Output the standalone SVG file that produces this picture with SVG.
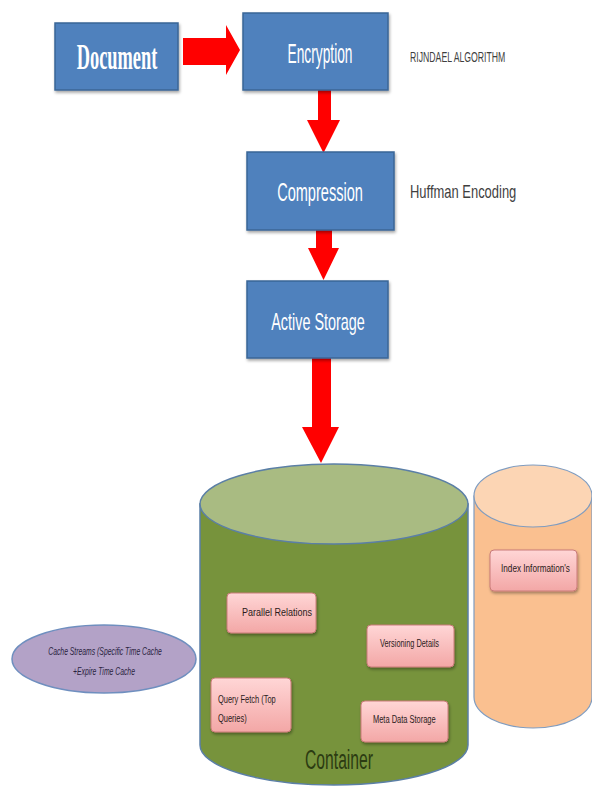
<svg xmlns="http://www.w3.org/2000/svg" width="592" height="786" viewBox="0 0 592 786">
<defs>
<style>
.blue{fill:#4f81bd;stroke:#3a6696;stroke-width:1.5}
.wt{fill:#ffffff;font-family:"Liberation Sans",Arial,sans-serif;text-anchor:middle}
.pink{fill:url(#pg);stroke:#c97a78;stroke-width:1}
.st{fill:#2a1a1a;font-family:"Liberation Sans",Arial,sans-serif;font-size:11px}
.arrow{fill:#ff0000;stroke:none}
.note{fill:#3f3f3f;font-family:"Liberation Sans",Arial,sans-serif}
.ct{fill:#2a2340;font-family:"Liberation Sans",Arial,sans-serif;font-style:italic;font-size:11px;text-anchor:middle}
</style>
<linearGradient id="pg" x1="0" y1="0" x2="0" y2="1">
<stop offset="0" stop-color="#ffd6d6"/>
<stop offset="1" stop-color="#f3a7a6"/>
</linearGradient>
<filter id="sh" x="-5%" y="-5%" width="115%" height="125%">
<feDropShadow dx="1" dy="2" stdDeviation="1.5" flood-color="#000" flood-opacity="0.35"/>
</filter>
</defs>
<rect width="592" height="786" fill="#ffffff"/>

<g id="connectors">
<polygon class="arrow" points="183,38 226,38 226,25 240,50 226,75 226,65 183,65"/>
<polygon class="arrow" points="318,90 331,90 331,120 340,120 323.5,153 307,120 318,120"/>
<polygon class="arrow" points="316,230 332,230 332,248 339,248 323.5,280 308,248 316,248"/>
<polygon class="arrow" points="312,358 331,358 331,427 339,427 321,463 302,427 312,427"/>
</g>

<g id="container">
<path d="M200,504 L200,745 A134,40 0 0 0 468,745 L468,504 Z" fill="#77933c" stroke="#5b7fa6" stroke-width="1.5"/>
<ellipse cx="334" cy="504" rx="134" ry="40" fill="#a9bb82" stroke="#5b7fa6" stroke-width="1.5"/>
<text transform="translate(339,769) scale(0.58,1)" font-family="Liberation Sans,Arial,sans-serif" font-size="27" fill="#2c3b12" text-anchor="middle">Container</text>
</g>

<g id="index-store">
<path d="M474,496 L474,697 A59,31 0 0 0 592,697 L592,496 Z" fill="#fac090" stroke="#7f9cc0" stroke-width="1.2"/>
<ellipse cx="533" cy="496" rx="59" ry="31" fill="#fcd5b4" stroke="#7f9cc0" stroke-width="1.2"/>
</g>

<g id="document">
<rect class="blue" x="55" y="23" width="123" height="67" filter="url(#sh)"/>
<text transform="translate(117,69) scale(0.51,1)" font-family="Liberation Serif,'Times New Roman',serif" font-weight="bold" font-size="36" fill="#ffffff" text-anchor="middle">Document</text>
</g>

<g id="encryption">
<rect class="blue" x="243" y="13" width="145" height="77" filter="url(#sh)"/>
<text class="wt" transform="translate(320,63) scale(0.51,1)" font-size="27">Encryption</text>
</g>

<g id="rijndael">
<text class="note" transform="translate(410,62) scale(0.58,1)" font-size="15">RIJNDAEL ALGORITHM</text>
</g>

<g id="compression">
<rect class="blue" x="247" y="152" width="147" height="78" filter="url(#sh)"/>
<text class="wt" transform="translate(320,201) scale(0.56,1)" font-size="26">Compression</text>
</g>

<g id="huffman">
<text class="note" transform="translate(410,198) scale(0.72,1)" font-size="18">Huffman Encoding</text>
</g>

<g id="active-storage">
<rect class="blue" x="247" y="281" width="141" height="77" filter="url(#sh)"/>
<text class="wt" transform="translate(318,330) scale(0.6,1)" font-size="24">Active Storage</text>
</g>

<g id="parallel-relations">
<rect class="pink" x="227" y="593" width="89" height="40" rx="4" filter="url(#sh)"/>
<text class="st" transform="translate(242,616) scale(0.82,1)">Parallel Relations</text>
</g>

<g id="versioning-details">
<rect class="pink" x="367" y="625" width="87" height="42" rx="4" filter="url(#sh)"/>
<text class="st" transform="translate(380,647) scale(0.67,1)">Versioning Details</text>
</g>

<g id="query-fetch">
<rect class="pink" x="211" y="678" width="80" height="54" rx="4" filter="url(#sh)"/>
<text class="st" transform="translate(218,703) scale(0.68,1)">Query Fetch (Top</text>
<text class="st" transform="translate(218,722) scale(0.68,1)">Queries)</text>
</g>

<g id="meta-data-storage">
<rect class="pink" x="361" y="701" width="87" height="41" rx="4" filter="url(#sh)"/>
<text class="st" transform="translate(373,723) scale(0.68,1)">Meta Data Storage</text>
</g>

<g id="index-information">
<rect class="pink" x="490" y="550" width="87" height="41" rx="4" filter="url(#sh)"/>
<text class="st" transform="translate(501,572) scale(0.745,1)">Index Information's</text>
</g>

<g id="cache-streams">
<ellipse cx="104" cy="659" rx="92" ry="34" fill="#b3a2c7" stroke="#6f8fbf" stroke-width="1.5"/>
<text class="ct" transform="translate(105,655) scale(0.62,1)">Cache Streams (Specific Time Cache</text>
<text class="ct" transform="translate(104,675) scale(0.62,1)">+Expire Time Cache</text>
</g>
</svg>
